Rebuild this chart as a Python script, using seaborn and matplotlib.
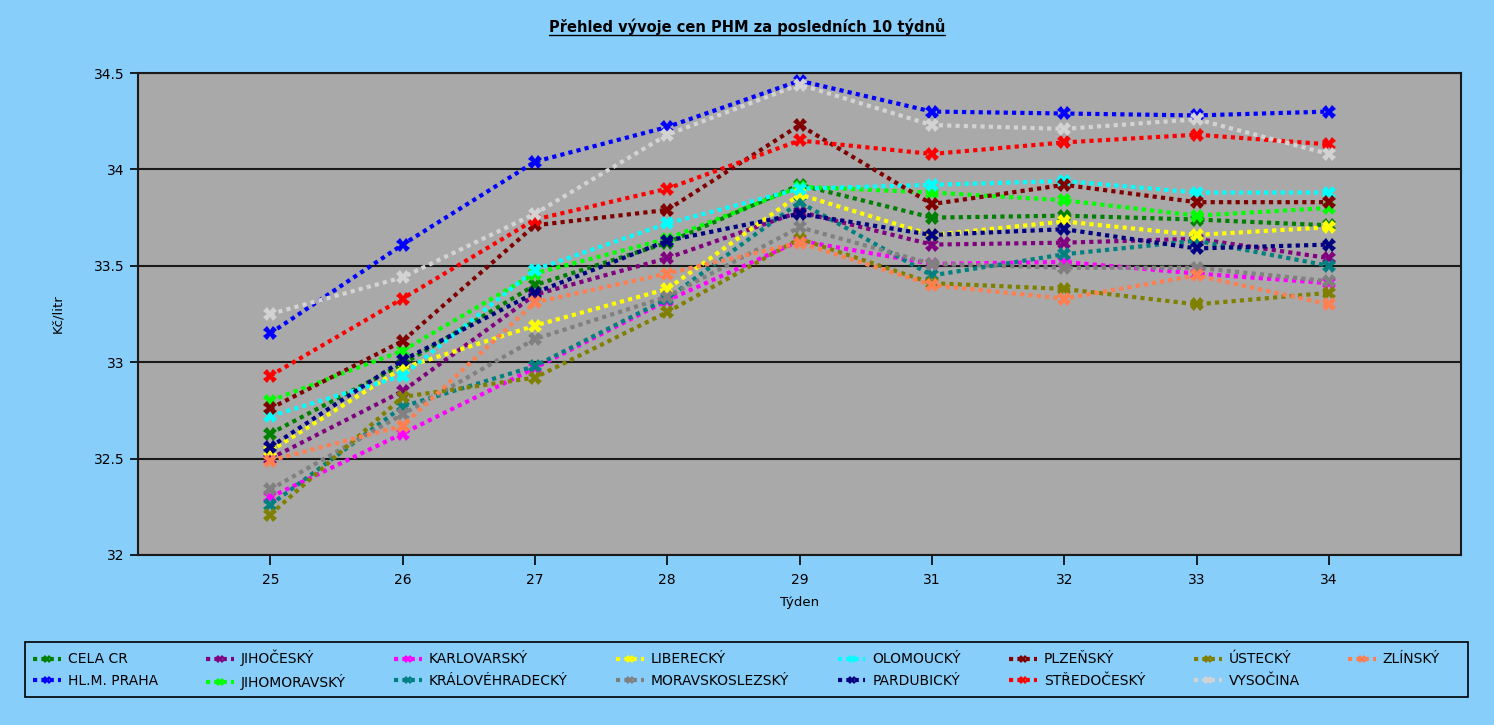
import matplotlib
matplotlib.use("Agg")
import matplotlib.pyplot as plt
from matplotlib.lines import Line2D
from matplotlib.patches import Rectangle
from matplotlib.ticker import FormatStrFormatter
import pandas as pd
import seaborn as sns

# weeks shown on the x axis (week 30 is missing in the source)
weeks = ["25", "26", "27", "28", "29", "31", "32", "33", "34"]

# average fuel price per region, Kč/litr
cela_cr = [32.63, 32.99, 33.40, 33.62, 33.92, 33.75, 33.76, 33.74, 33.71]
hlm_praha = [33.15, 33.61, 34.04, 34.22, 34.46, 34.30, 34.29, 34.28, 34.30]
jihocesky = [32.50, 32.85, 33.35, 33.54, 33.78, 33.61, 33.62, 33.64, 33.54]
jihomoravsky = [32.80, 33.06, 33.46, 33.64, 33.91, 33.88, 33.84, 33.76, 33.80]
karlovarsky = [32.30, 32.63, 32.97, 33.32, 33.63, 33.51, 33.52, 33.46, 33.41]
kralovehradecky = [32.26, 32.77, 32.98, 33.33, 33.83, 33.45, 33.56, 33.63, 33.50]
liberecky = [32.54, 32.97, 33.19, 33.38, 33.87, 33.66, 33.73, 33.66, 33.70]
moravskoslezsky = [32.34, 32.73, 33.12, 33.34, 33.70, 33.51, 33.49, 33.49, 33.42]
olomoucky = [32.72, 32.93, 33.48, 33.72, 33.90, 33.92, 33.94, 33.88, 33.88]
pardubicky = [32.56, 33.01, 33.36, 33.63, 33.77, 33.66, 33.69, 33.59, 33.61]
plzensky = [32.76, 33.11, 33.71, 33.79, 34.23, 33.82, 33.92, 33.83, 33.83]
stredocesky = [32.93, 33.33, 33.74, 33.90, 34.15, 34.08, 34.14, 34.18, 34.13]
ustecky = [32.21, 32.82, 32.92, 33.26, 33.64, 33.41, 33.38, 33.30, 33.36]
vysocina = [33.25, 33.44, 33.77, 34.18, 34.44, 34.23, 34.21, 34.26, 34.08]
zlinsky = [32.49, 32.67, 33.31, 33.46, 33.62, 33.40, 33.33, 33.45, 33.30]

region_names = ["CELA CR", "HL.M. PRAHA", "JIHOČESKÝ", "JIHOMORAVSKÝ", "KARLOVARSKÝ",
                "KRÁLOVÉHRADECKÝ", "LIBERECKÝ", "MORAVSKOSLEZSKÝ", "OLOMOUCKÝ",
                "PARDUBICKÝ", "PLZEŇSKÝ", "STŘEDOČESKÝ", "ÚSTECKÝ", "VYSOČINA", "ZLÍNSKÝ"]
region_values = [cela_cr, hlm_praha, jihocesky, jihomoravsky, karlovarsky,
                 kralovehradecky, liberecky, moravskoslezsky, olomoucky,
                 pardubicky, plzensky, stredocesky, ustecky, vysocina, zlinsky]
colors = ["#008000", "#0000FF", "#800080", "#00FF00", "#FF00FF",
          "#008080", "#FFFF00", "#808080", "#00FFFF",
          "#000080", "#800000", "#FF0000", "#808000", "#D3D3D3", "#FF7F50"]

rows = []
for name, vals in zip(region_names, region_values):
    for w, v in zip(weeks, vals):
        rows.append({"Týden": w, "cena": v, "kraj": name})
df = pd.DataFrame(rows)

sns.set_style("white")
plt.rcParams["font.family"] = ["DejaVu Sans"]
plt.rcParams["text.color"] = "black"
plt.rcParams["axes.labelcolor"] = "black"

bg = "#87CEFA"
W, H = 1494, 725
fig = plt.figure(figsize=(W / 100, H / 100), dpi=100, facecolor=bg)
ax = fig.add_axes([0.0924, 0.2345, 0.8856, 0.6648])
ax.set_facecolor("#A9A9A9")

sns.lineplot(data=df, x="Týden", y="cena", hue="kraj", hue_order=region_names,
             palette=colors, sort=False, estimator=None, errorbar=None,
             lw=3, ls=(0, (1, 1)), marker="X", markersize=10, mew=0,
             legend=False, ax=ax)

ax.set_xlim(-1, 9)
ax.set_ylim(32, 34.5)
ax.set_yticks([32, 32.5, 33, 33.5, 34, 34.5])
ax.yaxis.set_major_formatter(FormatStrFormatter("%g"))
ax.yaxis.grid(True, color="#1a1a1a", lw=1.5)
ax.set_axisbelow(True)
for s in ax.spines.values():
    s.set_color("#1a1a1a")
    s.set_linewidth(1.5)
ax.tick_params(axis="x", direction="out", length=7, width=1.2, colors="black",
               labelsize=10, pad=6, bottom=True)
ax.tick_params(axis="y", direction="out", length=6, width=1.2, colors="black",
               labelsize=10, left=True)

ax.set_xlabel("Týden", fontsize=9.5)
ax.xaxis.set_label_coords(0.5, -0.085)
ax.set_ylabel("Kč/litr", fontsize=9.5)
ax.yaxis.set_label_coords(-0.056, 0.5)

title = fig.text(0.5, 0.963, "Přehled vývoje cen PHM za posledních 10 týdnů",
                 ha="center", va="center", fontsize=10.5, fontweight="bold")

# legend box drawn separately so the entries can keep a right margin
fig.add_artist(Rectangle((25 / W, 1 - 697 / H), 1443 / W, 55 / H,
                         transform=fig.transFigure, facecolor="none",
                         edgecolor="black", lw=1.2))

# small legend keys: dotted stub with a little cross
handles = [Line2D([], [], color=c, lw=3, ls=(0, (1, 1)), marker="X",
                  markersize=6, mew=0) for c in colors]


def make_legend(colspace):
    return fig.legend(handles, region_names, loc="center left",
                      bbox_to_anchor=(33 / W, 1 - 670 / H), ncol=8,
                      frameon=False, fontsize=10, handlelength=2.0,
                      handletextpad=0.5, borderaxespad=0, labelspacing=0.55,
                      borderpad=0, columnspacing=colspace)


# widen the column gaps so the last entry ends near x=1440
leg = make_legend(2.0)
fig.canvas.draw()
w = leg.get_window_extent().width
leg.remove()
em = 10 * fig.dpi / 72
leg = make_legend(2.0 + (1407 - w) / 7 / em)

# underline the title
fig.canvas.draw()
bb = title.get_window_extent()
inv = fig.transFigure.inverted()
(x0, y0), (x1, _) = inv.transform([(bb.x0, bb.y0), (bb.x1, bb.y1)])
fig.add_artist(Line2D([x0, x1], [y0, y0], transform=fig.transFigure,
                      color="black", lw=1))

fig.savefig("out.png", dpi=100, facecolor=bg)
